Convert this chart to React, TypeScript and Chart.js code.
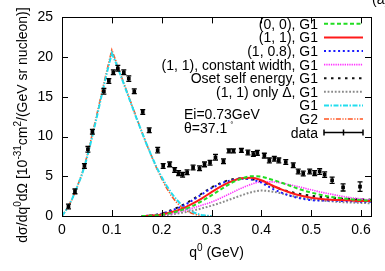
import React, { useEffect, useRef } from 'react';
import { Chart, registerables } from 'chart.js';

Chart.register(...registerables);

const FONT = "'Liberation Sans', Arial, sans-serif";

// axis ticks
const xTicks = [0, 0.1, 0.2, 0.3, 0.4, 0.5, 0.6];
const xTickLabels = ['0', '0.1', '0.2', '0.3', '0.4', '0.5', '0.6'];
const yTicks = [0, 5, 10, 15, 20, 25];
const yTickLabels = ['0', '5', '10', '15', '20', '25'];

// quasi-elastic peak curves (G1, G2)
const qPeak = [0, 0.01, 0.02, 0.03, 0.04, 0.05, 0.06, 0.07, 0.08, 0.09, 0.1, 0.11, 0.12, 0.13, 0.14, 0.15, 0.16, 0.17, 0.18, 0.19, 0.2, 0.21, 0.22, 0.23, 0.24, 0.25, 0.26, 0.27, 0.28, 0.29, 0.3];
const g1Vals = [0, 0.9, 2.1, 3.6, 5.2, 7.3, 9.8, 12.5, 15.3, 18.0, 20.5, 19.0, 17.3, 15.6, 13.9, 12.2, 10.6, 9.0, 7.5, 6.1, 4.9, 3.8, 2.85, 2.05, 1.4, 0.9, 0.55, 0.3, 0.13, 0.04, 0];
const g2Vals = [0, 0.9, 2.1, 3.6, 5.3, 7.5, 10.1, 12.8, 15.6, 18.3, 20.9, 19.2, 17.4, 15.7, 14.0, 12.3, 10.6, 9.0, 7.5, 6.0, 4.7, 3.5, 2.5, 1.7, 1.1, 0.65, 0.35, 0.15, 0.05, 0, 0];

// Delta region curves
const qDelta = [0.16, 0.18, 0.2, 0.22, 0.24, 0.26, 0.28, 0.3, 0.32, 0.34, 0.36, 0.38, 0.4, 0.42, 0.44, 0.46, 0.48, 0.5, 0.52, 0.54, 0.56, 0.58, 0.6, 0.62];
const v00 = [0, 0.03, 0.15, 0.4, 0.75, 1.2, 1.85, 2.6, 3.4, 4.15, 4.7, 5.0, 4.95, 4.6, 4.2, 3.75, 3.3, 2.95, 2.65, 2.4, 2.25, 2.1, 2.0, 1.95];
const v11 = [0, 0.05, 0.2, 0.5, 0.9, 1.5, 2.2, 3.0, 3.75, 4.35, 4.75, 4.82, 4.5, 3.9, 3.35, 2.9, 2.55, 2.3, 2.15, 2.05, 2.0, 1.95, 1.9, 1.9];
const v108 = [0, 0.07, 0.3, 0.7, 1.2, 1.9, 2.7, 3.5, 4.1, 4.5, 4.7, 4.6, 4.2, 3.5, 2.95, 2.5, 2.2, 2.0, 1.95, 1.95, 1.9, 1.85, 1.8, 1.8];
const vConst = [0, 0.02, 0.1, 0.3, 0.6, 0.95, 1.35, 1.75, 2.3, 2.9, 3.5, 4.0, 4.3, 4.3, 4.15, 3.9, 3.6, 3.3, 3.0, 2.75, 2.5, 2.3, 2.15, 2.0];
const vOset = [0, 0.07, 0.3, 0.75, 1.3, 2.0, 2.8, 3.6, 4.2, 4.6, 4.75, 4.65, 4.35, 3.8, 3.35, 3.0, 2.75, 2.55, 2.4, 2.3, 2.2, 2.15, 2.1, 2.05];
const vDelta = [0, 0.02, 0.08, 0.2, 0.4, 0.65, 0.95, 1.3, 1.7, 2.15, 2.6, 3.0, 3.2, 3.1, 2.85, 2.55, 2.3, 2.1, 1.95, 1.85, 1.75, 1.7, 1.65, 1.6];

// experimental data
const dataQ = [0.013, 0.026, 0.045, 0.052, 0.061, 0.084, 0.094, 0.103, 0.112, 0.124, 0.134, 0.145, 0.162, 0.175, 0.192, 0.203, 0.216, 0.226, 0.234, 0.242, 0.251, 0.263, 0.276, 0.286, 0.297, 0.308, 0.324, 0.335, 0.344, 0.36, 0.373, 0.384, 0.392, 0.406, 0.416, 0.426, 0.435, 0.449, 0.464, 0.474, 0.484, 0.497, 0.507, 0.517, 0.527, 0.542, 0.564, 0.598];
const dataY = [1.2, 3.1, 6.3, 8.4, 10.6, 15.7, 17.0, 18.1, 18.6, 18.1, 17.3, 15.7, 13.1, 10.8, 8.3, 6.3, 6.5, 5.8, 5.4, 5.2, 5.5, 6.1, 6.0, 6.5, 6.7, 7.4, 6.9, 8.2, 8.2, 8.25, 8.0, 7.8, 7.95, 7.6, 7.0, 7.2, 7.0, 6.8, 6.4, 5.6, 5.35, 5.6, 5.4, 5.6, 5.2, 4.5, 3.6, 3.7];
const dataErr = [0.3, 0.3, 0.3, 0.35, 0.3, 0.35, 0.3, 0.3, 0.35, 0.3, 0.35, 0.3, 0.3, 0.3, 0.35, 0.3, 0.3, 0.3, 0.3, 0.3, 0.3, 0.3, 0.3, 0.3, 0.3, 0.35, 0.3, 0.25, 0.25, 0.25, 0.3, 0.3, 0.3, 0.3, 0.3, 0.3, 0.3, 0.3, 0.3, 0.3, 0.3, 0.3, 0.3, 0.35, 0.35, 0.4, 0.45, 0.6];

const toPts = (xs: number[], ys: number[]) => xs.map((x, i) => ({ x, y: ys[i] }));

function curve(label: string, xs: number[], ys: number[], color: string, dash: number[], width: number, smooth: boolean) {
  return {
    label,
    data: toPts(xs, ys),
    showLine: true,
    borderColor: color,
    backgroundColor: color,
    borderDash: dash,
    borderWidth: width,
    pointRadius: 0,
    fill: false,
    tension: 0,
    cubicInterpolationMode: smooth ? 'monotone' : 'default',
    order: 2,
  };
}

const customPlugin = {
  id: 'gnuplotStyle',
  afterDatasetsDraw(chart: any) {
    const ctx = chart.ctx;
    const xs = chart.scales.x;
    const ys = chart.scales.y;
    ctx.save();
    ctx.strokeStyle = '#000';
    ctx.lineWidth = 1.3;
    ctx.setLineDash([]);
    for (let i = 0; i < dataQ.length; i++) {
      const px = xs.getPixelForValue(dataQ[i]);
      const pyTop = ys.getPixelForValue(dataY[i] + dataErr[i]);
      const pyBot = ys.getPixelForValue(dataY[i] - dataErr[i]);
      ctx.beginPath();
      ctx.moveTo(px, pyTop);
      ctx.lineTo(px, pyBot);
      ctx.moveTo(px - 2.5, pyTop);
      ctx.lineTo(px + 2.5, pyTop);
      ctx.moveTo(px - 2.5, pyBot);
      ctx.lineTo(px + 2.5, pyBot);
      ctx.stroke();
    }
    ctx.restore();
  },
  afterDraw(chart: any) {
    const ctx = chart.ctx;
    const a = chart.chartArea;
    const xs = chart.scales.x;
    const ys = chart.scales.y;
    ctx.save();
    // frame
    ctx.strokeStyle = '#000';
    ctx.lineWidth = 1;
    ctx.setLineDash([]);
    ctx.strokeRect(Math.round(a.left) + 0.5, Math.round(a.top) + 0.5, Math.round(a.right - a.left), Math.round(a.bottom - a.top));
    // inner ticks on all sides
    const tl = 6;
    ctx.beginPath();
    xTicks.forEach((v) => {
      const px = Math.round(xs.getPixelForValue(v)) + 0.5;
      ctx.moveTo(px, a.bottom);
      ctx.lineTo(px, a.bottom - tl);
      ctx.moveTo(px, a.top);
      ctx.lineTo(px, a.top + tl);
    });
    yTicks.forEach((v) => {
      const py = Math.round(ys.getPixelForValue(v)) + 0.5;
      ctx.moveTo(a.left, py);
      ctx.lineTo(a.left + tl, py);
      ctx.moveTo(a.right, py);
      ctx.lineTo(a.right - tl, py);
    });
    ctx.stroke();

    ctx.fillStyle = '#000';
    // legend
    const ds = chart.data.datasets;
    const rowY0 = 23.8;
    const rowH = 13.6;
    const textRight = 318;
    const sx0 = 324;
    const sx1 = 363;
    ctx.font = `14px ${FONT}`;
    ctx.textAlign = 'right';
    ctx.textBaseline = 'alphabetic';
    ds.forEach((d: any, i: number) => {
      const cy = rowY0 + i * rowH;
      ctx.fillStyle = '#000';
      ctx.fillText(d.label, textRight, cy + 5);
      ctx.save();
      if (d.showLine) {
        ctx.strokeStyle = d.borderColor;
        ctx.lineWidth = d.borderWidth;
        ctx.setLineDash(d.borderDash || []);
        ctx.beginPath();
        ctx.moveTo(sx0, cy);
        ctx.lineTo(sx1, cy);
        ctx.stroke();
      } else {
        ctx.strokeStyle = '#000';
        ctx.lineWidth = 1.5;
        ctx.setLineDash([]);
        ctx.beginPath();
        ctx.moveTo(sx0, cy);
        ctx.lineTo(sx1, cy);
        ctx.moveTo(sx0, cy - 3);
        ctx.lineTo(sx0, cy + 3);
        ctx.moveTo(sx1, cy - 3);
        ctx.lineTo(sx1, cy + 3);
        ctx.moveTo((sx0 + sx1) / 2, cy - 3);
        ctx.lineTo((sx0 + sx1) / 2, cy + 3);
        ctx.stroke();
      }
      ctx.restore();
    });

    // annotations
    ctx.fillStyle = '#000';
    ctx.textAlign = 'left';
    ctx.font = `14px ${FONT}`;
    ctx.fillText('Ei=0.73GeV', 184, 119);
    ctx.fillText('\u03b8=37.1', 184, 133);
    const wTheta = ctx.measureText('\u03b8=37.1').width;
    ctx.font = `8px ${FONT}`;
    ctx.fillText('\u00b0', 184 + wTheta + 3, 127);

    // "(a)" partially cut at top right
    ctx.font = `14px ${FONT}`;
    ctx.fillText('(a)', 372, 3.5);

    // x title with superscript
    const xParts: [string, boolean][] = [['q', false], ['0', true], [' (GeV)', false]];
    drawParts(ctx, xParts, (a.left + a.right) / 2, 256.5);

    // y title rotated
    ctx.save();
    ctx.translate(27, 125);
    ctx.rotate(-Math.PI / 2);
    const yParts: [string, boolean][] = [
      ['d\u03c3/dq', false], ['0', true], ['d\u03a9 [10', false], ['-31', true], ['cm', false], ['2', true], ['/(GeV sr nucleon)]', false],
    ];
    drawParts(ctx, yParts, 0, 0);
    ctx.restore();

    ctx.restore();
  },
};

function drawParts(ctx: CanvasRenderingContext2D, parts: [string, boolean][], cx: number, baseline: number) {
  const big = `14px ${FONT}`;
  const small = `10px ${FONT}`;
  let total = 0;
  const widths = parts.map(([t, sup]) => {
    ctx.font = sup ? small : big;
    const w = ctx.measureText(t).width;
    total += w;
    return w;
  });
  let x = cx - total / 2;
  ctx.textAlign = 'left';
  ctx.textBaseline = 'alphabetic';
  ctx.fillStyle = '#000';
  parts.forEach(([t, sup], i) => {
    ctx.font = sup ? small : big;
    ctx.fillText(t, x, sup ? baseline - 6 : baseline);
    x += widths[i];
  });
}

export default function App() {
  const ref = useRef<HTMLCanvasElement | null>(null);
  useEffect(() => {
    if (!ref.current) return;
    const datasets: any[] = [
      curve('(0, 0), G1', qDelta, v00, '#22dd22', [4, 2.5], 2, true),
      curve('(1, 1), G1', qDelta, v11, '#ff1a1a', [], 2, true),
      curve('(1, 0.8), G1', qDelta, v108, '#1a1aff', [2, 2.7], 2, true),
      curve('(1, 1), constant width, G1', qDelta, vConst, '#ff33ff', [1.3, 1], 1.6, true),
      curve('Oset self energy, G1', qDelta, vOset, '#111111', [2.5, 4.5], 2, true),
      curve('(1, 1) only \u0394, G1', qDelta, vDelta, '#8a8a8a', [1.8, 1.8], 2, true),
      curve('G1', qPeak, g1Vals, '#22ddee', [5, 1.5, 1.5, 1.5], 2, false),
      curve('G2', qPeak, g2Vals, '#ff5522', [5, 1.5, 1.2, 1.5, 1.2, 1.5], 1.6, false),
      {
        label: 'data',
        data: toPts(dataQ, dataY),
        showLine: false,
        pointStyle: 'rect',
        pointRadius: 2.6,
        borderWidth: 0,
        backgroundColor: '#000',
        borderColor: '#000',
        order: 1,
      },
    ];
    const chart = new Chart(ref.current, {
      type: 'scatter',
      data: { datasets },
      options: {
        animation: false,
        responsive: false,
        maintainAspectRatio: false,
        layout: { padding: { left: 0, right: 14, top: 17, bottom: 0 } },
        plugins: { legend: { display: false }, tooltip: { enabled: false } },
        scales: {
          x: {
            type: 'linear',
            min: 0,
            max: 0.62,
            grid: { display: false, drawTicks: false },
            border: { display: false },
            afterBuildTicks: (s: any) => { s.ticks = xTicks.map((v) => ({ value: v })); },
            afterFit: (s: any) => { s.height = 55; },
            ticks: {
              padding: 6,
              color: '#000',
              font: { family: FONT, size: 14 },
              maxRotation: 0,
              autoSkip: false,
              callback: (v: any) => { const i = xTicks.findIndex((t) => Math.abs(t - v) < 1e-9); return i >= 0 ? xTickLabels[i] : ''; },
            },
          },
          y: {
            type: 'linear',
            min: 0,
            max: 25,
            grid: { display: false, drawTicks: false },
            border: { display: false },
            afterBuildTicks: (s: any) => { s.ticks = yTicks.map((v) => ({ value: v })); },
            afterFit: (s: any) => { s.width = 62; },
            ticks: {
              padding: 9,
              color: '#000',
              font: { family: FONT, size: 14 },
              autoSkip: false,
              callback: (v: any) => { const i = yTicks.findIndex((t) => Math.abs(t - v) < 1e-9); return i >= 0 ? yTickLabels[i] : ''; },
            },
          },
        },
      },
      plugins: [customPlugin],
    });
    return () => chart.destroy();
  }, []);
  return (
    <div style={{ position: 'fixed', left: 0, top: 0, width: 385, height: 271, background: '#fff' }}>
      <canvas ref={ref} width={385} height={271} style={{ display: 'block', width: 385, height: 271 }} />
    </div>
  );
}
